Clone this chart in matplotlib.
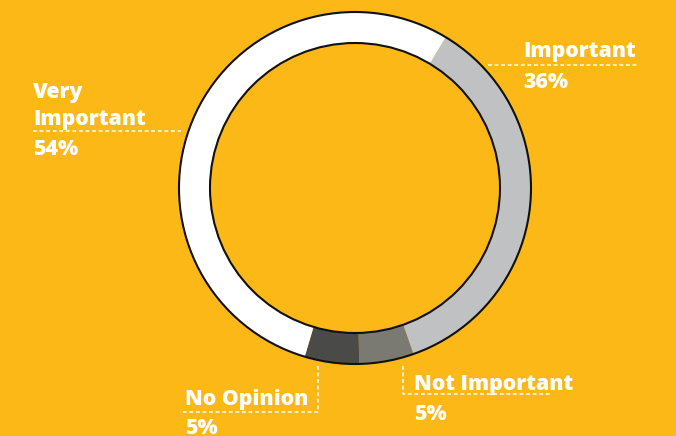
import matplotlib.pyplot as plt
from matplotlib.patches import Circle

# data
categories = ['Important', 'Not Important', 'No Opinion', 'Very Important']
shares = [36, 5, 5, 54]

colors = ['#bfc1c2', '#7a7a73', '#4a4b48', '#ffffff']
bg = '#fbb817'

W, H = 676, 436
fig = plt.figure(figsize=(W / 100, H / 100), dpi=100, facecolor=bg)
ax = fig.add_axes([0, 0, 1, 1])

cx, cy = 355, H - 188
R, ring = 176, 31

ax.pie(shares, colors=colors, startangle=59, counterclock=False,
       center=(cx, cy), radius=R, frame=True,
       wedgeprops=dict(width=ring, linewidth=0))
ax.set_xlim(0, W)
ax.set_ylim(0, H)
ax.set_aspect('equal')
ax.axis('off')
for r in (R, R - ring):
    ax.add_patch(Circle((cx, cy), r, fill=False, ec='#111111', lw=1.5, zorder=3))

font = dict(color='white', fontsize=15.3, fontweight=800, family='Open Sans')
dash = dict(color='white', lw=1.1, ls=(0, (2.5, 1.8)))


def y(v):
    return H - v


# Very Important
ax.text(33, y(98), 'Very', **font)
ax.text(33, y(125), 'Important', **font)
ax.plot([33, 181], [y(131), y(131)], **dash)
ax.text(33, y(155), f'{shares[3]}%', **font)

# Important
ax.text(523, y(57), 'Important', **font)
ax.plot([488, 637], [y(65), y(65)], **dash)
ax.text(523, y(88), f'{shares[0]}%', **font)

# No Opinion
ax.text(185, y(405), 'No Opinion', **font)
ax.plot([318, 318, 180], [y(366), y(412), y(412)], **dash)
ax.text(185, y(434), f'{shares[2]}%', **font)

# Not Important
ax.text(414, y(390), 'Not Important', **font)
ax.plot([403, 403, 552], [y(366), y(394), y(394)], **dash)
ax.text(414, y(420), f'{shares[1]}%', **font)

fig.savefig('out.png', dpi=100, facecolor=bg)
